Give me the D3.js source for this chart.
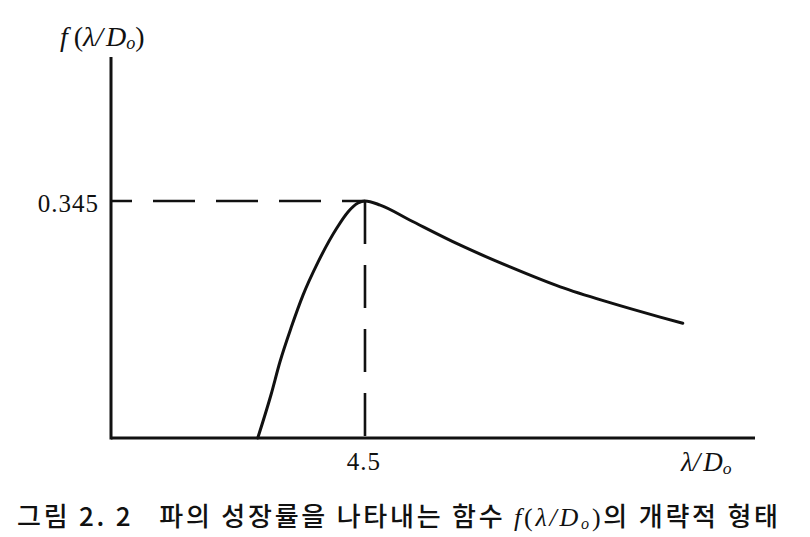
<!DOCTYPE html>
<html>
<head>
<meta charset="utf-8">
<script src="https://cdn.jsdelivr.net/npm/d3@7"></script>
<style>
  html, body { margin: 0; padding: 0; background: #fff; }
  svg { display: block; }
</style>
</head>
<body>
<svg id="chart" width="810" height="537"></svg>
<script>
// ---- data ----
const curveX = [2.60, 2.835, 2.994, 3.189, 3.402, 3.668, 4.004, 4.199, 4.376, 4.50, 4.77, 5.30, 6.18, 7.07, 7.96, 8.84, 9.73, 10.13];
const curveY = [0.000, 0.063, 0.111, 0.160, 0.208, 0.256, 0.306, 0.329, 0.342, 0.345, 0.339, 0.317, 0.281, 0.249, 0.220, 0.197, 0.176, 0.167];
const peakX = 4.5;
const peakY = 0.345;
const xTickValues = [4.5];
const xTickLabels = ["4.5"];
const yTickValues = [0.345];
const yTickLabels = ["0.345"];
const captionStart = "그림 2. 2   파의 성장률을 나타내는 함수 ";
const captionEnd = "의 개략적 형태";

// ---- layout ----
const svg = d3.select("#chart");
const x = d3.scaleLinear().domain([0, 11.41]).range([111, 755]);
const y = d3.scaleLinear().domain([0, 0.5546]).range([438, 57]);

const ink = "#111";

// axes
svg.append("line").attr("x1", x(0)).attr("x2", x(0)).attr("y1", y(0) + 1.5).attr("y2", y.range()[1])
  .attr("stroke", ink).attr("stroke-width", 3);
svg.append("line").attr("x1", x(0)).attr("x2", x.range()[1]).attr("y1", y(0)).attr("y2", y(0))
  .attr("stroke", ink).attr("stroke-width", 3);

// dashed guides
svg.append("line").attr("x1", x(0)).attr("x2", x(peakX)).attr("y1", y(peakY)).attr("y2", y(peakY))
  .attr("stroke", ink).attr("stroke-width", 2.6)
  .attr("stroke-dasharray", "42 21").attr("stroke-dashoffset", 21);
svg.append("line").attr("x1", x(peakX)).attr("x2", x(peakX)).attr("y1", y(peakY)).attr("y2", y(0))
  .attr("stroke", ink).attr("stroke-width", 2.6)
  .attr("stroke-dasharray", "43 21");

// curve
const pts = curveX.map((v, i) => [v, curveY[i]]);
const line = d3.line().x(d => x(d[0])).y(d => y(d[1])).curve(d3.curveMonotoneX);
svg.append("path").attr("d", line(pts)).attr("fill", "none")
  .attr("stroke", ink).attr("stroke-width", 3).attr("stroke-linecap", "round");

// tick labels
const serif = "'Liberation Serif', 'DejaVu Serif', serif";
yTickValues.forEach((v, i) => {
  svg.append("text").attr("x", 99).attr("y", y(v) + 11)
    .attr("text-anchor", "end").attr("font-family", serif).attr("font-size", 25)
    .attr("letter-spacing", 1).attr("fill", ink).text(yTickLabels[i]);
});
xTickValues.forEach((v, i) => {
  svg.append("text").attr("x", x(v) - 1).attr("y", 470)
    .attr("text-anchor", "middle").attr("font-family", serif).attr("font-size", 25)
    .attr("letter-spacing", 1).attr("fill", ink).text(xTickLabels[i]);
});

// axis titles
const yt = svg.append("text").attr("x", 60).attr("y", 46)
  .attr("font-family", serif).attr("font-style", "italic").attr("font-size", 28).attr("fill", ink);
yt.append("tspan").text("f");
yt.append("tspan").attr("font-style", "normal").attr("dx", 6).text("(");
yt.append("tspan").text("λ/");
yt.append("tspan").attr("dx", 3).text("D");
yt.append("tspan").attr("font-size", "0.65em").attr("dy", 3).text("o");
yt.append("tspan").attr("dy", -3).attr("font-style", "normal").text(")");

const xt = svg.append("text").attr("x", 681).attr("y", 471)
  .attr("font-family", serif).attr("font-style", "italic").attr("font-size", 27).attr("fill", ink);
xt.append("tspan").text("λ/");
xt.append("tspan").attr("dx", 3).text("D");
xt.append("tspan").attr("font-size", "0.65em").attr("dy", 3).text("o");

// caption
const cap = svg.append("text").attr("x", 17).attr("y", 526)
  .attr("font-family", "'Noto Sans CJK KR', sans-serif").attr("font-weight", 500)
  .attr("font-size", 26).attr("fill", ink).style("white-space", "pre")
  .attr("textLength", 761).attr("lengthAdjust", "spacing");
cap.append("tspan").text(captionStart);
const fpart = cap.append("tspan").attr("font-family", serif).attr("font-style", "italic").attr("font-weight", 400);
fpart.append("tspan").text("f");
fpart.append("tspan").attr("font-style", "normal").text("(");
fpart.append("tspan").text("λ/D");
fpart.append("tspan").attr("font-size", "0.62em").attr("dy", 3).text("o");
fpart.append("tspan").attr("font-style", "normal").attr("dy", -3).text(")");
cap.append("tspan").text(captionEnd);
</script>
</body>
</html>
